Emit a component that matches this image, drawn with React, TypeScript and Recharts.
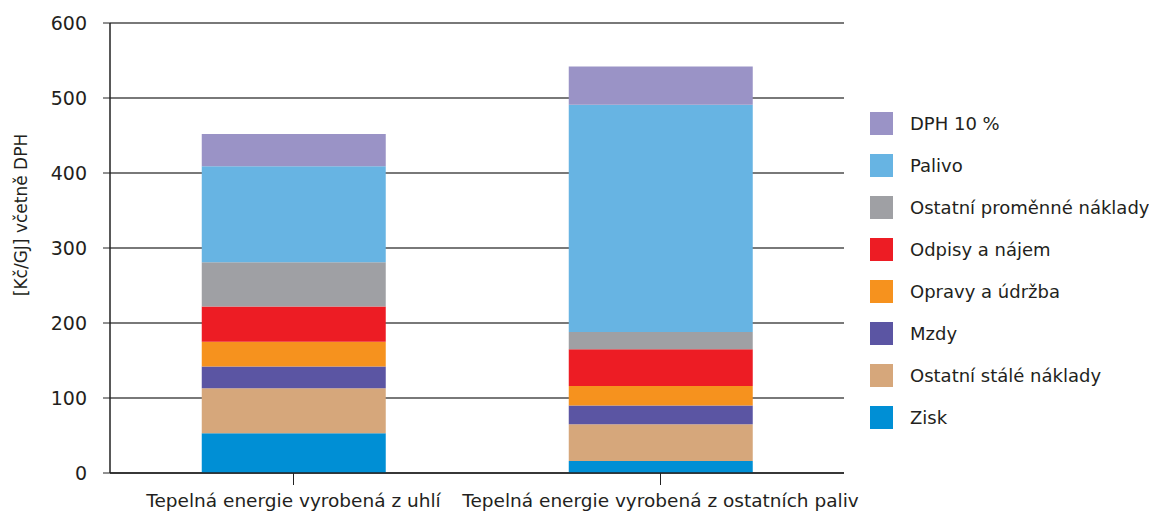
import React from "react";
import { BarChart, Bar, XAxis, YAxis, CartesianGrid, Legend } from "recharts";

const categories = [
  "Tepelná energie vyrobená z uhlí",
  "Tepelná energie vyrobená z ostatních paliv",
];

// stacked from the bottom up
const zisk = [53, 16];
const ostatniStale = [60, 49];
const mzdy = [29, 25];
const opravy = [33, 26];
const odpisy = [47, 49];
const ostatniPromenne = [59, 23];
const palivo = [128, 303];
const dph = [43, 51];

const yTicks = [0, 100, 200, 300, 400, 500, 600];

const series = [
  { key: "zisk", name: "Zisk", values: zisk, color: "#008fd5" },
  { key: "ostatniStale", name: "Ostatní stálé náklady", values: ostatniStale, color: "#d6a77b" },
  { key: "mzdy", name: "Mzdy", values: mzdy, color: "#5b55a3" },
  { key: "opravy", name: "Opravy a údržba", values: opravy, color: "#f6921e" },
  { key: "odpisy", name: "Odpisy a nájem", values: odpisy, color: "#ed1c24" },
  { key: "ostatniPromenne", name: "Ostatní proměnné náklady", values: ostatniPromenne, color: "#9fa0a4" },
  { key: "palivo", name: "Palivo", values: palivo, color: "#67b4e3" },
  { key: "dph", name: "DPH 10 %", values: dph, color: "#9a93c6" },
];

const data = categories.map((name, i) => {
  const row: Record<string, string | number> = { name };
  series.forEach((s) => {
    row[s.key] = s.values[i];
  });
  return row;
});

const FONT = "'DejaVu Sans', 'Liberation Sans', sans-serif";
const TEXT = "#231f20";

// legend lists the series top-down, same as the stack
const renderLegend = () => {
  const items = [...series].reverse();
  return (
    <div style={{ fontFamily: FONT }}>
      {items.map((s) => (
        <div key={s.key} style={{ display: "flex", alignItems: "center", height: 42 }}>
          <span style={{ width: 23, height: 23, background: s.color, marginRight: 17, flexShrink: 0 }} />
          <span style={{ fontSize: 18, color: TEXT, whiteSpace: "nowrap" }}>{s.name}</span>
        </div>
      ))}
    </div>
  );
};

const YLabel = (props: any) => {
  const { viewBox } = props;
  const cx = 21;
  const cy = viewBox.y + viewBox.height / 2 - 33;
  return (
    <text
      x={cx}
      y={cy}
      transform={`rotate(-90, ${cx}, ${cy})`}
      textAnchor="middle"
      dominantBaseline="central"
      fontSize={17}
      fill={TEXT}
      fontFamily={FONT}
    >
      [Kč/GJ] včetně DPH
    </text>
  );
};

export default function App() {
  return (
    <div style={{ position: "absolute", left: 0, top: 0, background: "#fff" }}>
      <BarChart
        width={1149}
        height={513}
        data={data}
        margin={{ top: 23, right: 305, bottom: 0, left: 0 }}
        barCategoryGap="25%"
        style={{ fontFamily: FONT }}
      >
        <CartesianGrid yAxisId="left" vertical={false} stroke="#4d4d4d" strokeWidth={1.5} />
        <XAxis
          dataKey="name"
          height={40}
          tickSize={12}
          tickMargin={9}
          axisLine={{ stroke: "#222", strokeWidth: 1.5 }}
          tickLine={{ stroke: "#222" }}
          tick={{ fontSize: 18.5, fill: TEXT }}
          interval={0}
        />
        <YAxis
          yAxisId="left"
          width={110}
          domain={[0, 600]}
          ticks={yTicks}
          tickSize={7}
          tickMargin={16}
          axisLine={{ stroke: "#222", strokeWidth: 1.5 }}
          tickLine={{ stroke: "#222" }}
          tick={{ fontSize: 19, fill: TEXT }}
          label={<YLabel />}
        />
        <YAxis
          yAxisId="right"
          orientation="right"
          width={0}
          domain={[0, 600]}
          tick={false}
          tickLine={false}
          axisLine={{ stroke: "#333", strokeWidth: 1.5 }}
        />
        <Legend
          layout="vertical"
          align="center"
          verticalAlign="middle"
          content={renderLegend}
          wrapperStyle={{ left: 870, top: 102, width: 279 }}
        />
        {series.map((s) => (
          <Bar
            key={s.key}
            yAxisId="left"
            dataKey={s.key}
            name={s.name}
            stackId="a"
            fill={s.color}
            isAnimationActive={false}
          />
        ))}
      </BarChart>
    </div>
  );
}
